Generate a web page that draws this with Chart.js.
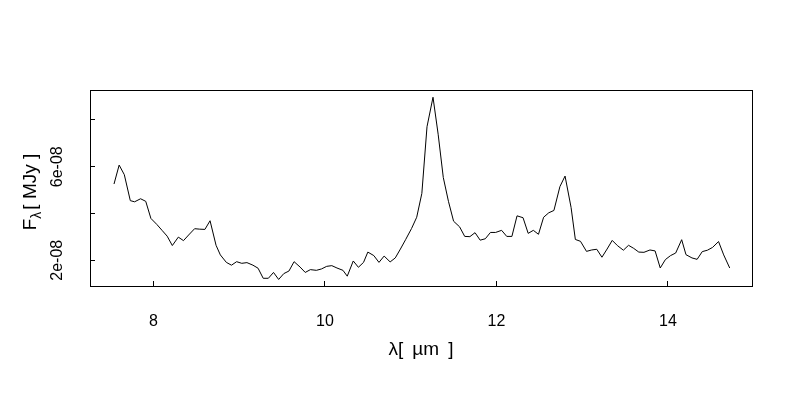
<!DOCTYPE html>
<html>
<head>
<meta charset="utf-8">
<script src="https://cdn.jsdelivr.net/npm/chart.js@4/dist/chart.umd.min.js"></script>
<style>
  html, body { margin: 0; padding: 0; background: #fff; }
  #wrap { width: 800px; height: 400px; }
</style>
</head>
<body>
<div id="wrap"><canvas id="spec"></canvas></div>
<script>
// wavelength in micron
const wavelength = [
  7.54, 7.60, 7.66, 7.73, 7.78, 7.85, 7.91, 7.97, 8.04, 8.10,
  8.16, 8.22, 8.29, 8.35, 8.41, 8.48, 8.54, 8.60, 8.66, 8.73,
  8.78, 8.85, 8.91, 8.97, 9.03, 9.09, 9.16, 9.22, 9.28, 9.34,
  9.40, 9.46, 9.52, 9.58, 9.64, 9.71, 9.77, 9.83, 9.90, 9.96,
  10.02, 10.08, 10.14, 10.21, 10.26, 10.33, 10.39, 10.45, 10.50, 10.57,
  10.63, 10.69, 10.76, 10.82, 10.88, 10.94, 11.01, 11.07, 11.13, 11.19,
  11.26, 11.32, 11.38, 11.44, 11.50, 11.57, 11.63, 11.69, 11.75, 11.81,
  11.87, 11.93, 11.99, 12.06, 12.12, 12.18, 12.24, 12.31, 12.37, 12.43,
  12.49, 12.55, 12.61, 12.67, 12.74, 12.80, 12.87, 12.92, 12.98, 13.05,
  13.11, 13.17, 13.23, 13.29, 13.35, 13.41, 13.48, 13.54, 13.60, 13.66,
  13.72, 13.79, 13.85, 13.91, 13.97, 14.03, 14.09, 14.16, 14.21, 14.28,
  14.34, 14.40, 14.46, 14.52, 14.59, 14.65, 14.72
];

// flux in units of 1e-08 MJy
const flux = [
  5.26, 6.07, 5.66, 4.55, 4.50, 4.63, 4.52, 3.79, 3.53, 3.28,
  3.03, 2.63, 2.99, 2.84, 3.08, 3.35, 3.33, 3.32, 3.69, 2.64,
  2.23, 1.91, 1.79, 1.94, 1.87, 1.90, 1.79, 1.66, 1.23, 1.23,
  1.48, 1.18, 1.43, 1.54, 1.94, 1.71, 1.48, 1.60, 1.57, 1.63,
  1.74, 1.77, 1.67, 1.57, 1.32, 1.97, 1.70, 1.91, 2.35, 2.20,
  1.91, 2.18, 1.93, 2.10, 2.48, 2.88, 3.36, 3.84, 4.86, 7.71,
  8.97, 7.39, 5.54, 4.52, 3.67, 3.43, 3.02, 3.01, 3.18, 2.86,
  2.92, 3.19, 3.19, 3.28, 3.02, 3.02, 3.90, 3.82, 3.15, 3.28,
  3.11, 3.84, 4.03, 4.13, 5.15, 5.60, 4.26, 2.89, 2.81, 2.38,
  2.44, 2.47, 2.13, 2.48, 2.85, 2.63, 2.43, 2.64, 2.51, 2.35,
  2.34, 2.44, 2.40, 1.67, 2.03, 2.20, 2.31, 2.88, 2.24, 2.10,
  2.04, 2.37, 2.43, 2.55, 2.80, 2.23, 1.67
];

const xTicks = [8, 10, 12, 14];
const yLabelled = [2, 6]; // R drops the 4e-08 and 8e-08 labels
const yTickText = v => v + 'e-08';

const FONT = '"Liberation Sans", Arial, sans-serif';

// R style: full box, rotated y labels, F with lambda subscript
const rFrame = {
  id: 'rFrame',
  afterDraw(chart) {
    const c = chart.ctx;
    const a = chart.chartArea;
    const ys = chart.scales.y;
    c.save();
    c.strokeStyle = '#000';
    c.lineWidth = 1;
    c.strokeRect(a.left + 0.5, a.top + 0.5, a.right - a.left, a.bottom - a.top);

    c.fillStyle = '#000';
    c.font = '16px ' + FONT;
    c.textAlign = 'center';
    c.textBaseline = 'middle';
    yLabelled.forEach(v => {
      c.save();
      c.translate(58, ys.getPixelForValue(v));
      c.rotate(-Math.PI / 2);
      c.fillText(yTickText(v), 0, 0);
      c.restore();
    });

    // y title
    c.save();
    c.translate(31, 192);
    c.rotate(-Math.PI / 2);
    const big = '19px ' + FONT, small = '14px ' + FONT;
    const rest = '[ MJy ]';
    c.font = big;
    const wF = c.measureText('F').width;
    const wRest = c.measureText(rest).width;
    c.font = small;
    const wL = c.measureText('λ').width;
    let x0 = -(wF + wL + 2 + wRest) / 2;
    c.textAlign = 'left';
    c.font = big;
    c.fillText('F', x0, 0);
    c.font = small;
    c.fillText('λ', x0 + wF, 6);
    c.font = big;
    c.fillText(rest, x0 + wF + wL + 2, 0);
    c.restore();

    c.restore();
  }
};

new Chart(document.getElementById('spec'), {
  type: 'line',
  data: {
    datasets: [{
      data: wavelength.map((w, i) => ({ x: w, y: flux[i] })),
      borderColor: '#000',
      borderWidth: 1,
      pointRadius: 0,
      tension: 0,
      fill: false
    }]
  },
  options: {
    responsive: true,
    maintainAspectRatio: false,
    animation: false,
    layout: { padding: { top: 90, right: 48, left: 0, bottom: 0 } },
    plugins: { legend: { display: false }, tooltip: { enabled: false } },
    scales: {
      x: {
        type: 'linear',
        min: 7.26,
        max: 14.98,
        afterFit(s) { s.height = 114; },
        afterBuildTicks(s) { s.ticks = xTicks.map(v => ({ value: v })); },
        border: { display: false },
        grid: { drawOnChartArea: false, drawTicks: true, tickLength: -5, color: '#000', lineWidth: 1 },
        ticks: { color: '#000', font: { family: FONT, size: 16 }, padding: 31, maxRotation: 0 },
        title: {
          display: true,
          text: 'λ[\u2009 µm \u2009]',
          color: '#000',
          font: { family: FONT, size: 19 },
          padding: { top: 0, bottom: 39 }
        }
      },
      y: {
        type: 'linear',
        min: 0.9,
        max: 9.28,
        afterFit(s) { s.width = 90; },
        border: { display: false },
        grid: { drawOnChartArea: false, drawTicks: true, tickLength: -5, color: '#000', lineWidth: 1 },
        ticks: { stepSize: 2, includeBounds: false, callback: () => '' }
      }
    }
  },
  plugins: [rFrame]
});
</script>
</body>
</html>
